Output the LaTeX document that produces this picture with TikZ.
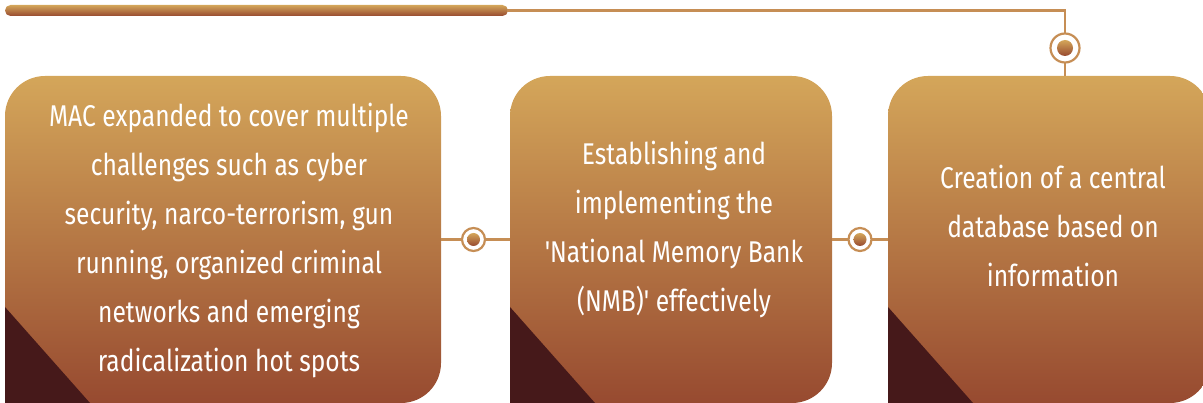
\documentclass[tikz,border=0pt]{standalone}
\usepackage{fontspec}
\setmainfont{Fira Sans}[FakeStretch=0.82]
\newfontfamily\plainq{Fira Sans}[FakeStretch=0.82]
\newcommand{\sq}{{\plainq'}}
\definecolor{gold}{HTML}{D4A65A}
\definecolor{rust}{HTML}{974A30}
\definecolor{darkwedge}{HTML}{46191A}
\definecolor{connc}{HTML}{C68E55}
\tikzset{
  boxarea/.style={inner sep=0pt, outer sep=0pt},
  boxfill/.style={top color=gold, bottom color=rust},
  wedge/.style={fill=darkwedge},
  conn/.style={draw=connc, line width=2.2pt},
  ring/.style={circle, draw=connc, line width=2.2pt, fill=white, inner sep=0pt, outer sep=0pt},
  dot/.style={top color=gold, bottom color=rust},
  label/.style={text=white, align=center, font=\fontsize{30}{49}\selectfont, inner sep=0pt}
}
\newcommand{\stepshape}[1]{%
  \shade[boxfill] (#1.south west) -- ([yshift=-40pt]#1.north west)
    arc[start angle=180, end angle=90, radius=40pt]
    -- ([xshift=-40pt]#1.north east)
    arc[start angle=90, end angle=0, radius=40pt]
    -- ([yshift=40pt]#1.south east)
    arc[start angle=0, end angle=-90, radius=40pt]
    -- cycle;
  \fill[wedge] ([yshift=96pt]#1.south west) -- (#1.south west) -- ([xshift=85pt]#1.south west) -- cycle;
}
\begin{document}
\begin{tikzpicture}[x=1pt,y=-1pt]
\useasboundingbox (0,0) rectangle (1203,403);
\clip (0,0) rectangle (1203,403);

% box placeholders
\node[boxarea, minimum width=436pt, minimum height=327pt] (b1) at (223,239.5) {};
\node[boxarea, minimum width=322pt, minimum height=327pt] (b2) at (671,239.5) {};
\node[boxarea, minimum width=322pt, minimum height=327pt] (b3) at (1049,239.5) {};

\stepshape{b1}
\stepshape{b2}
\stepshape{b3}

% top bar
\shade[boxfill, rounded corners=5.5pt] (5,5) rectangle (508,16);
\coordinate (barend) at (507,10.5);

% rings
\node[ring, minimum size=23pt] (c1) at (473.5,239.5) {};
\node[ring, minimum size=23pt] (c2) at (860,239.5) {};
\node[ring, minimum size=29pt] (c3) at (1065,48) {};

\draw[conn] (b1.east) -- (c1);
\draw[conn] (c1) -- (b2.west);
\draw[conn] (b2.east) -- (c2);
\draw[conn] (c2) -- (b3.west);
\draw[conn, line width=2.4pt] (barend) -| (c3);
\draw[conn, line width=2.4pt] (c3) -- (c3 |- b3.north);

\shade[dot] (c1) circle[radius=6.5pt];
\shade[dot] (c2) circle[radius=6.5pt];
\shade[dot] (c3) circle[radius=8pt];

% texts
\node[label] (t1) at (229,240) {MAC expanded to cover multiple\\challenges such as cyber\\security, narco-terrorism, gun\\running, organized criminal\\networks and emerging\\radicalization hot spots};
\node[label] (t2) at (674,229) {Establishing and\\implementing the\\\sq National Memory Bank\\(NMB)\sq{} effectively};
\node[label] (t3) at (1053,226) {Creation of a central\\database based on\\information};
\end{tikzpicture}
\end{document}
